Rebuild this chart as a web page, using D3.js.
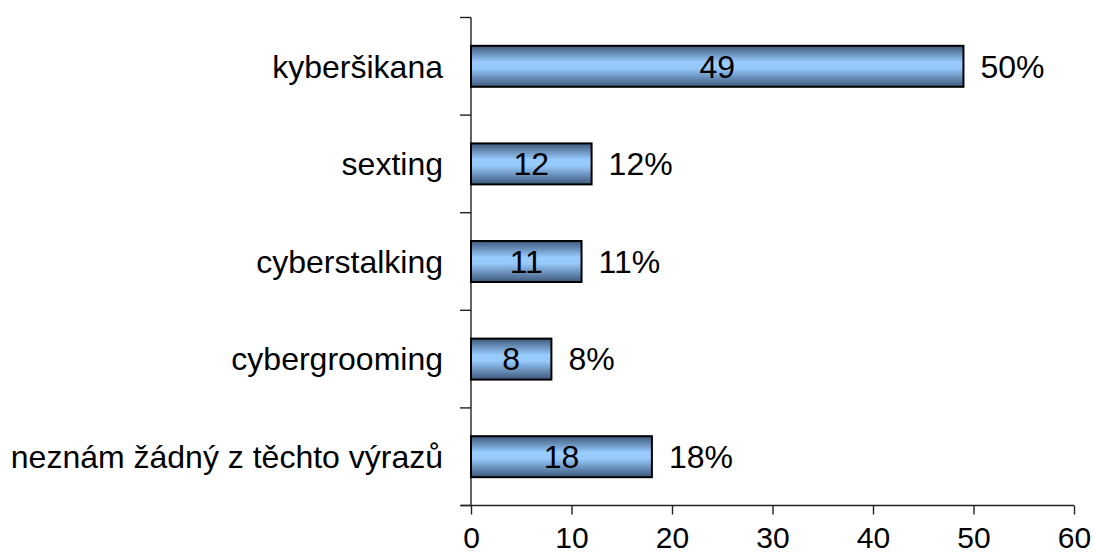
<!DOCTYPE html>
<html>
<head>
<meta charset="utf-8">
<script src="https://cdn.jsdelivr.net/npm/d3@7"></script>
<style>
  body { margin: 0; background: #fff; }
  text { font-family: "Liberation Sans", Arial, sans-serif; fill: #000; }
</style>
</head>
<body>
<div id="chart"></div>
<script>
let categories = ["kyberšikana", "sexting", "cyberstalking", "cybergrooming", "neznám žádný z těchto výrazů"];
let counts = [49, 12, 11, 8, 18];
let percents = [50, 12, 11, 8, 18];
let xTicks = [0, 10, 20, 30, 40, 50, 60];

let svgWidth = 1094, svgHeight = 557;
let margin = {top: 17.5, left: 471, right: 20, bottom: 51.5};
let width = svgWidth - margin.left - margin.right;
let height = svgHeight - margin.top - margin.bottom;
let fontSize = 32;

let svg = d3.select("#chart").append("svg")
  .attr("width", svgWidth)
  .attr("height", svgHeight);

let defs = svg.append("defs");
let grad = defs.append("linearGradient")
  .attr("id", "barGrad")
  .attr("x1", 0).attr("y1", 0).attr("x2", 0).attr("y2", 1);
grad.append("stop").attr("offset", "0%").attr("stop-color", "#3d587a");
grad.append("stop").attr("offset", "40%").attr("stop-color", "#99ccff");
grad.append("stop").attr("offset", "55%").attr("stop-color", "#96c8fa");
grad.append("stop").attr("offset", "100%").attr("stop-color", "#3d587a");

let g = svg.append("g").attr("transform", "translate(" + [margin.left, margin.top] + ")");

let x = d3.scaleLinear().domain([0, 60]).range([0, width]);
let y = d3.scaleBand().domain(categories).range([0, height])
  .paddingInner(0.58).paddingOuter(0.29);

// x axis
let xAxis = d3.axisBottom(x).tickValues(xTicks).tickSize(9).tickPadding(12).tickSizeOuter(0);
let xg = g.append("g")
  .attr("transform", "translate(0," + height + ")")
  .call(xAxis);
xg.select(".domain").attr("d", "M-10,0H" + width);
xg.selectAll("path, line").attr("stroke", "#222").attr("stroke-width", 1.4);
xg.selectAll("text").style("font-size", "30px").attr("font-family", null);

// y axis (ticks between categories, like excel)
let half = (y.step() - y.bandwidth()) / 2;
let yBounds = categories.map(c => y(c) - half).concat([height]);
g.append("line")
  .attr("x1", 0).attr("x2", 0)
  .attr("y1", 0).attr("y2", height)
  .attr("stroke", "#222").attr("stroke-width", 1.4);
g.selectAll(".ytick").data(yBounds).enter().append("line")
  .attr("class", "ytick")
  .attr("x1", -11).attr("x2", 0)
  .attr("y1", d => d).attr("y2", d => d)
  .attr("stroke", "#222").attr("stroke-width", 1.4);

g.selectAll(".ylabel").data(categories).enter().append("text")
  .attr("class", "ylabel")
  .attr("x", -28)
  .attr("y", d => y(d) + y.bandwidth() / 2)
  .attr("dy", "0.35em")
  .attr("text-anchor", "end")
  .style("font-size", fontSize + "px")
  .text(d => d);

// bars
let rows = categories.map((c, i) => ({cat: c, n: counts[i], pct: percents[i]}));

g.selectAll(".bar").data(rows).enter().append("rect")
  .attr("class", "bar")
  .attr("x", x(0))
  .attr("y", d => y(d.cat))
  .attr("width", d => x(d.n) - x(0))
  .attr("height", y.bandwidth())
  .attr("fill", "url(#barGrad)")
  .attr("stroke", "#000")
  .attr("stroke-width", 2);

g.selectAll(".inlabel").data(rows).enter().append("text")
  .attr("class", "inlabel")
  .attr("x", d => (x(0) + x(d.n)) / 2)
  .attr("y", d => y(d.cat) + y.bandwidth() / 2)
  .attr("dy", "0.35em")
  .attr("text-anchor", "middle")
  .style("font-size", fontSize + "px")
  .text(d => d.n);

g.selectAll(".pctlabel").data(rows).enter().append("text")
  .attr("class", "pctlabel")
  .attr("x", d => x(d.n) + 17)
  .attr("y", d => y(d.cat) + y.bandwidth() / 2)
  .attr("dy", "0.35em")
  .style("font-size", fontSize + "px")
  .text(d => d.pct + "%");
</script>
</body>
</html>
